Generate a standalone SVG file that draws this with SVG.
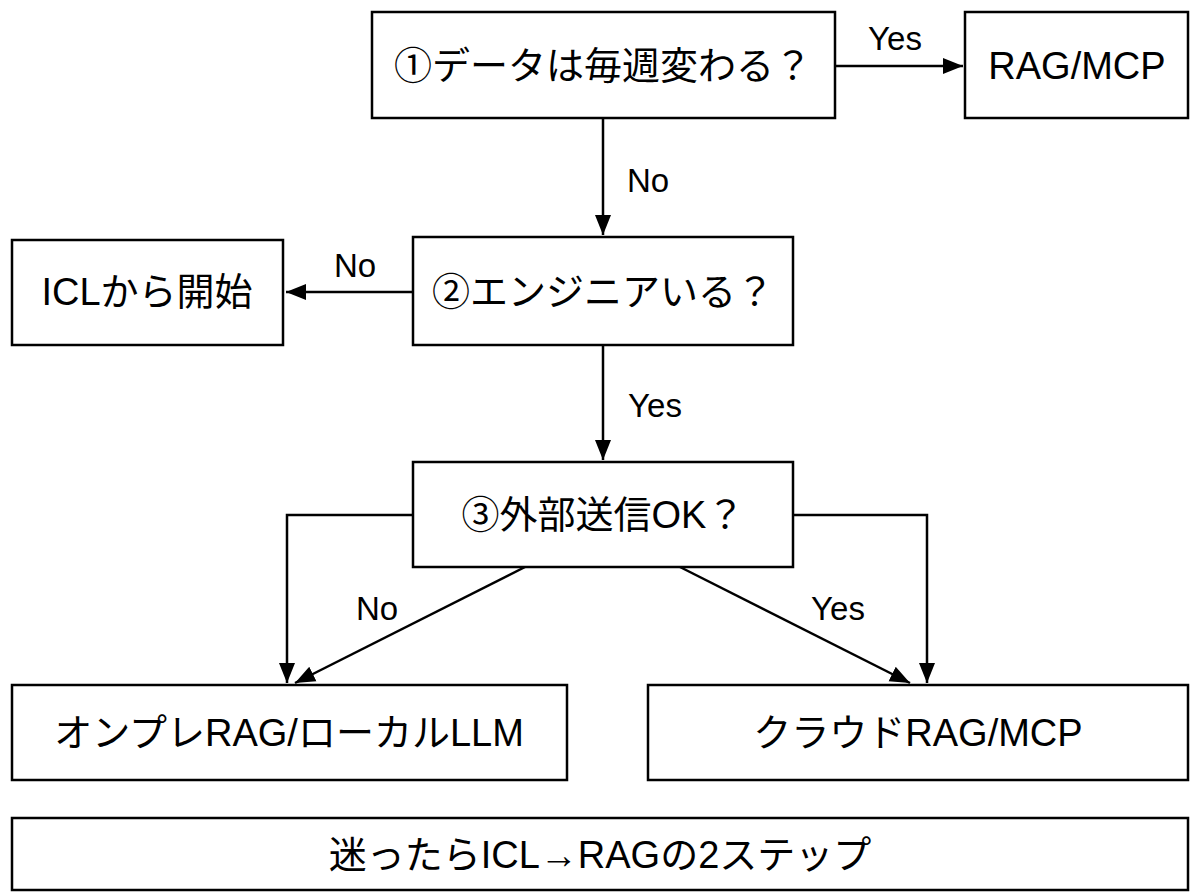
<svg xmlns="http://www.w3.org/2000/svg" width="1200" height="896" viewBox="0 0 1200 896">
<style>
.b{fill:#fff;stroke:#000;stroke-width:2.5}
.t{font-family:"Liberation Sans","Noto Sans CJK JP",sans-serif;font-size:38px;text-anchor:middle;dominant-baseline:central;fill:#000}
.l{font-family:"Liberation Sans","Noto Sans CJK JP",sans-serif;font-size:33px;text-anchor:middle;dominant-baseline:central;fill:#000}
.c{fill:none;stroke:#000;stroke-width:2.5}
</style>
<defs><marker id="a" viewBox="0 0 20 20" refX="20" refY="10" markerWidth="20" markerHeight="20" markerUnits="userSpaceOnUse" orient="auto"><path d="M0,2L20,10L0,18z"/></marker></defs>
<rect width="1200" height="896" fill="#fff"/>
<g id="connectors">
<path class="c" d="M835,66H963" marker-end="url(#a)"/>
<path class="c" d="M603,118V235" marker-end="url(#a)"/>
<path class="c" d="M413,292H286" marker-end="url(#a)"/>
<path class="c" d="M603,345V460" marker-end="url(#a)"/>
<path class="c" d="M413,515H287V683" marker-end="url(#a)"/>
<path class="c" d="M793,515H927V683" marker-end="url(#a)"/>
<path class="c" d="M525,567L295,683" marker-end="url(#a)"/>
<path class="c" d="M680,567L910,683" marker-end="url(#a)"/>
<text class="l" x="895" y="38">Yes</text>
<text class="l" x="648" y="180">No</text>
<text class="l" x="355" y="265">No</text>
<text class="l" x="655" y="405">Yes</text>
<text class="l" x="377" y="608">No</text>
<text class="l" x="838" y="608">Yes</text>
</g>
<g id="q1"><rect class="b" x="372" y="12" width="463" height="106"/><text class="t" x="603" y="66">①データは毎週変わる？</text></g>
<g id="rag"><rect class="b" x="965" y="12" width="223" height="106"/><text class="t" x="1077" y="66">RAG/MCP</text></g>
<g id="q2"><rect class="b" x="413" y="237" width="380" height="108"/><text class="t" x="603" y="292">②エンジニアいる？</text></g>
<g id="icl"><rect class="b" x="12" y="240" width="271" height="105"/><text class="t" x="147" y="292">ICLから開始</text></g>
<g id="q3"><rect class="b" x="413" y="462" width="380" height="105"/><text class="t" x="603" y="515">③外部送信OK？</text></g>
<g id="onprem"><rect class="b" x="12" y="685" width="555" height="95"/><text class="t" x="289" y="733">オンプレRAG/ローカルLLM</text></g>
<g id="cloud"><rect class="b" x="648" y="685" width="540" height="95"/><text class="t" x="918" y="733">クラウドRAG/MCP</text></g>
<g id="note"><rect class="b" x="12" y="818" width="1176" height="72"/><text class="t" x="600" y="855">迷ったらICL→RAGの2ステップ</text></g>
</svg>
